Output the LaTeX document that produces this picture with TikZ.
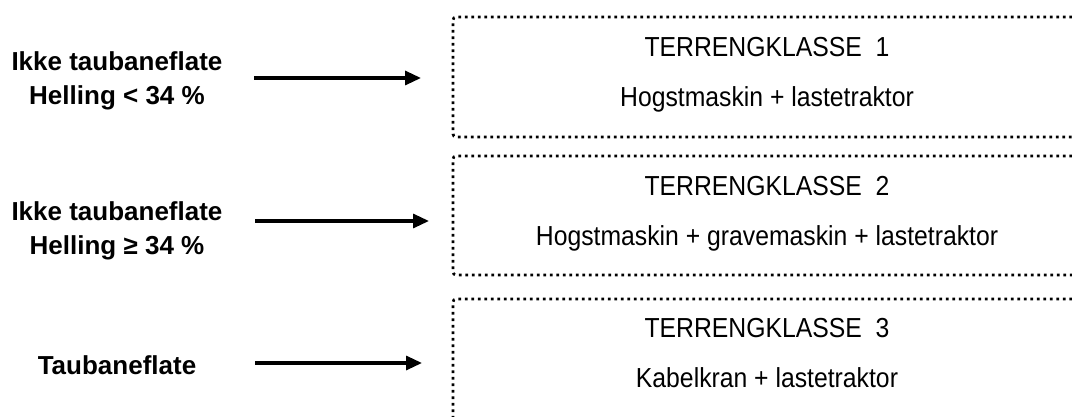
\documentclass[tikz,border=0pt]{standalone}
\usepackage{fontspec}
\setmainfont{Liberation Sans}
\newfontfamily\narrowsans[FakeStretch=0.9]{Liberation Sans}
\usetikzlibrary{arrows.meta}
\begin{document}
\begin{tikzpicture}[x=1pt,y=-1pt,
  condlabel/.style={font=\fontsize{26}{34}\selectfont\bfseries, align=center, inner sep=0pt},
  boxtext/.style={font=\narrowsans\fontsize{27.5}{30}\selectfont, inner sep=0pt, anchor=base},
  classbox/.style={line width=2.7pt, dash pattern=on 2.7pt off 3.8pt, rounded corners=3pt},
  flow/.style={line width=3.2pt, -{Triangle[length=16pt,width=14pt]}}]
  \useasboundingbox (0,0) rectangle (1072,417);

  % Conditions on the left
  \node[condlabel] (c1) at (117,81) {Ikke taubaneflate\\Helling < 34 \%};
  \node[condlabel] (c2) at (117,231) {Ikke taubaneflate\\Helling ≥ 34 \%};
  \node[condlabel] (c3) at (117,365) {Taubaneflate};

  % Open-ended dotted frames of the terrain classes
  \draw[classbox] (1072,17) -- (453,17) -- (453,137) -- (1072,137);
  \draw[classbox] (1072,156) -- (453,156) -- (453,275) -- (1072,275);
  \draw[classbox] (1072,299) -- (453,299) -- (453,430) -- (1072,430);

  % Terrain class texts
  \node[boxtext] (k1) at (767,57) {TERRENGKLASSE\ \ 1};
  \node[boxtext] (m1) at (767,107) {Hogstmaskin + lastetraktor};
  \node[boxtext] (k2) at (767,196) {TERRENGKLASSE\ \ 2};
  \node[boxtext] (m2) at (767,246) {Hogstmaskin + gravemaskin + lastetraktor};
  \node[boxtext] (k3) at (767,337) {TERRENGKLASSE\ \ 3};
  \node[boxtext] (m3) at (767,387) {Kabelkran + lastetraktor};

  % Arrow end points
  \coordinate (a1s) at (254,78);  \coordinate (a1e) at (421,78);
  \coordinate (a2s) at (255,221); \coordinate (a2e) at (429,221);
  \coordinate (a3s) at (255,363); \coordinate (a3e) at (422,363);

  \draw[flow] (a1s) -- (a1e);
  \draw[flow] (a2s) -- (a2e);
  \draw[flow] (a3s) -- (a3e);
\end{tikzpicture}
\end{document}
